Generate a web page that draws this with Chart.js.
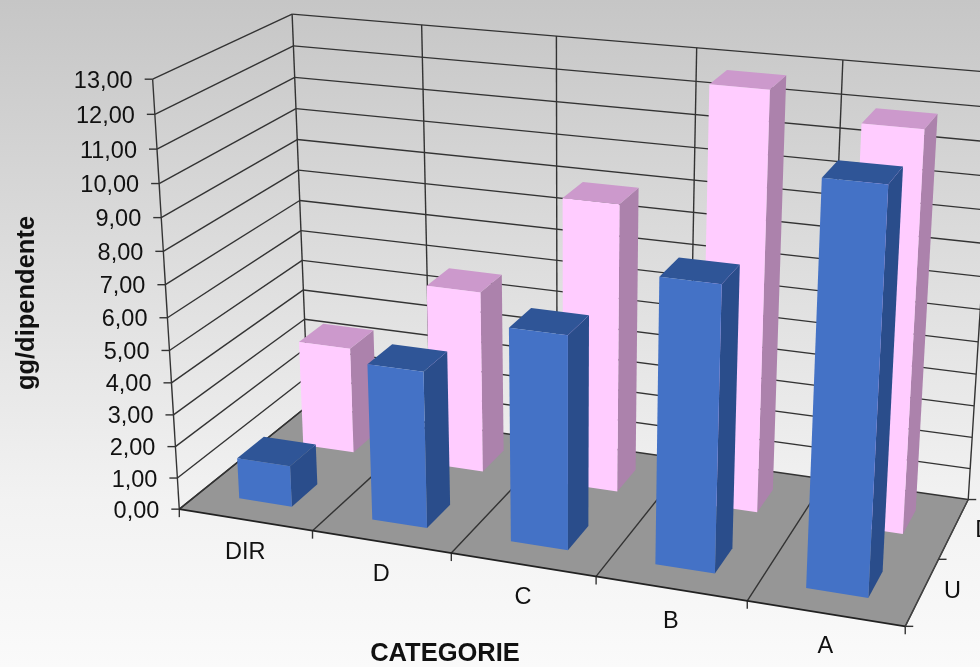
<!DOCTYPE html>
<html>
<head>
<meta charset="utf-8">
<style>html,body{margin:0;padding:0;background:#fff}#w{position:relative;width:980px;height:667px;overflow:hidden}</style>
<script src="https://cdn.jsdelivr.net/npm/chart.js@4"></script>
</head>
<body>
<div id="w"><canvas id="c" width="980" height="667"></canvas></div>
<script>
const categories = ['DIR','D','C','B','A'];
const seriesNames = ['U','D'];
const seriesU = [1.3,4.85,6.5,8.5,11.7];
const seriesD = [3.45,5.8,9.0,12.75,12.03];
const yMax = 13;
const xTitle = 'CATEGORIE';
const yTitle = 'gg/dipendente';

// Camera calibration: box corners (fraction of width, depth, height) and where they appear.
const calib = [
 [0,0,0,180,509],[.2,0,0,313,531],[.4,0,0,452,554],[.6,0,0,596,577],[.8,0,0,747,601],[1,0,0,904,626],
 [1,.5,0,940,558],[1,1,0,968,499],[0,1,0,307,406],
 [0,0,1,153,79],[0,1,1,293,14],[.2,1,1,423,24],[.4,1,1,556,36],[.6,1,1,693,48],[.8,1,1,842,60],[1,1,1,998,74],
 [0,0,.5,165,300.6],[0,1,.5,301,215.7]
];
function solveCamera(){
  const A=[],b=[];
  for(const [X,Y,Z,U,V] of calib){
    const u=U/1000,v=V/1000;
    A.push([X,Y,Z,1,0,0,0,0,-u*X,-u*Y,-u*Z]);b.push(u);
    A.push([0,0,0,0,X,Y,Z,1,-v*X,-v*Y,-v*Z]);b.push(v);
  }
  const n=11,M=[];
  for(let i=0;i<n;i++){M.push(new Array(n+1).fill(0));
    for(let j=0;j<n;j++)for(let r=0;r<A.length;r++)M[i][j]+=A[r][i]*A[r][j];
    for(let r=0;r<A.length;r++)M[i][n]+=A[r][i]*b[r];}
  for(let i=0;i<n;i++){let p=i;for(let k=i+1;k<n;k++)if(Math.abs(M[k][i])>Math.abs(M[p][i]))p=k;
    [M[i],M[p]]=[M[p],M[i]];
    for(let k=0;k<n;k++){if(k===i)continue;const f=M[k][i]/M[i][i];for(let j=i;j<=n;j++)M[k][j]-=f*M[i][j];}}
  return M.map((r,i)=>r[n]/r[i]);
}
const P=solveCamera();
function proj(x,y,z){
  const w=P[8]*x+P[9]*y+P[10]*z+1;
  return [1000*(P[0]*x+P[1]*y+P[2]*z+P[3])/w,1000*(P[4]*x+P[5]*y+P[6]*z+P[7])/w];
}
const styles=[
 {front:'#4472c6',top:'#2f5597',side:'#2a4d8b'},
 {front:'#ffccff',top:'#cc99cc',side:'#ac82ac'}
];
const LINE='#333333';
function poly(ctx,pts,fill){
  ctx.beginPath();pts.forEach((p,i)=>i?ctx.lineTo(p[0],p[1]):ctx.moveTo(p[0],p[1]));ctx.closePath();
  ctx.fillStyle=fill;ctx.fill();
}
function seg(ctx,a,b,col,w){
  ctx.beginPath();ctx.moveTo(a[0],a[1]);ctx.lineTo(b[0],b[1]);ctx.strokeStyle=col||LINE;ctx.lineWidth=w||1.4;ctx.stroke();
}
const plugin3d={
 id:'perspective3d',
 beforeDraw(chart){
  const ctx=chart.ctx,g=ctx.createLinearGradient(0,0,0,chart.height);
  g.addColorStop(0,'#c6c6c6');g.addColorStop(.75,'#f2f2f2');g.addColorStop(1,'#fafafa');
  ctx.fillStyle=g;ctx.fillRect(0,0,chart.width,chart.height);
 },
 beforeDatasetsDraw(chart){
  const ctx=chart.ctx,xs=chart.scales.x,ys=chart.scales.y;
  const zOf=v=>(ys.bottom-ys.getPixelForValue(v))/(ys.bottom-ys.top);
  const xOf=i=>(xs.getPixelForValue(i)-xs.left)/xs.width;
  const cw=1/categories.length, rows=seriesNames.length;
  ctx.save();ctx.lineJoin='round';
  // floor
  poly(ctx,[proj(0,0,0),proj(1,0,0),proj(1,1,0),proj(0,1,0)],'#969696');
  // wall gridlines
  ys.ticks.forEach(t=>{const z=zOf(t.value);
    seg(ctx,proj(0,0,z),proj(0,1,z));seg(ctx,proj(0,1,z),proj(1,1,z));
    const a=proj(0,0,z);seg(ctx,[a[0]-8,a[1]],a);
    ctx.fillStyle='#111';ctx.font='23.5px "Liberation Sans"';ctx.textAlign='right';ctx.textBaseline='middle';
    ctx.fillText(t.label,a[0]-20,a[1]+2);
  });
  seg(ctx,proj(0,0,0),proj(0,0,1));
  for(let i=0;i<=categories.length;i++){const x=i*cw;
    seg(ctx,proj(x,1,0),proj(x,1,1));
    seg(ctx,proj(x,0,0),proj(x,1,0));
    const a=proj(x,0,0);seg(ctx,a,[a[0],a[1]+8]);
  }
  seg(ctx,proj(0,0,0),proj(1,0,0),'#222',1.6);
  seg(ctx,proj(1,0,0),proj(1,1,0),'#444',1.2);
  for(let r=0;r<=rows;r++){const a=proj(1,r/rows,0);seg(ctx,a,[a[0]+8,a[1]]);}
  // bars, back row first
  for(let d=rows-1;d>=0;d--){
    const st=styles[d],vals=chart.data.datasets[d].data;
    const y0=(d+.5)/rows-.1,y1=(d+.5)/rows+.1;
    vals.forEach((v,i)=>{
      const c=xOf(i),x0=c-.4*cw/2,x1=c+.4*cw/2,z=zOf(v);
      poly(ctx,[proj(x1,y0,0),proj(x1,y1,0),proj(x1,y1,z),proj(x1,y0,z)],st.side);
      poly(ctx,[proj(x0,y0,z),proj(x1,y0,z),proj(x1,y1,z),proj(x0,y1,z)],st.top);
      poly(ctx,[proj(x0,y0,0),proj(x1,y0,0),proj(x1,y0,z),proj(x0,y0,z)],st.front);
    });
  }
  // text
  ctx.fillStyle='#111';ctx.font='23.5px "Liberation Sans"';ctx.textAlign='center';ctx.textBaseline='middle';
  categories.forEach((n,i)=>{const a=proj(xOf(i),0,0);ctx.fillText(n,a[0],a[1]+33);});
  seriesNames.forEach((n,d)=>{const a=proj(1,(d+.5)/rows,0);ctx.fillText(n,a[0]+30,a[1]+(d?2:0));});
  ctx.font='bold 25.5px "Liberation Sans"';
  ctx.fillText(xTitle,445,654);
  ctx.translate(27,303);ctx.rotate(-Math.PI/2);ctx.fillText(yTitle,0,0);
  ctx.restore();
  return false;
 }
};
new Chart(document.getElementById('c'),{
 type:'bar',
 data:{labels:categories,datasets:[
  {label:seriesNames[0],data:seriesU,backgroundColor:styles[0].front},
  {label:seriesNames[1],data:seriesD,backgroundColor:styles[1].front}
 ]},
 options:{
  responsive:false,animation:false,
  layout:{padding:0},
  plugins:{legend:{display:false},tooltip:{enabled:false}},
  scales:{
   x:{display:false},
   y:{display:false,min:0,max:yMax,ticks:{stepSize:1,callback:v=>v.toFixed(2).replace('.',',')}}
  }
 },
 plugins:[plugin3d]
});
</script>
</body>
</html>
